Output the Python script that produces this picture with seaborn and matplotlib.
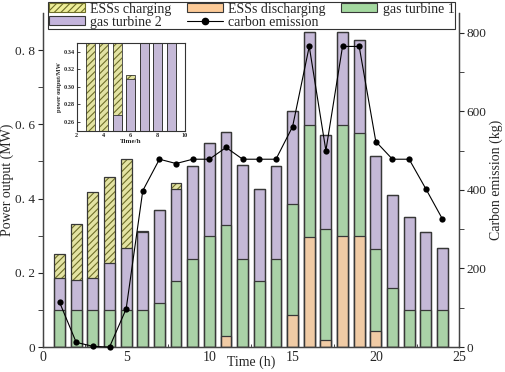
import numpy as np
import pandas as pd
import matplotlib
matplotlib.use('Agg')
import matplotlib.pyplot as plt
import seaborn as sns
from matplotlib.patches import Patch
from matplotlib.lines import Line2D

# hourly dispatch (MW) and carbon emission (kg)
hours = list(range(1, 25))
ess_dis = [0, 0, 0, 0, 0, 0, 0, 0, 0, 0, 0.03, 0, 0, 0,
           0.086, 0.296, 0.019, 0.298, 0.298, 0.044, 0, 0, 0, 0]
gt1 = [0.1, 0.1, 0.1, 0.1, 0.1, 0.1, 0.118, 0.178, 0.238, 0.298, 0.298, 0.238,
       0.178, 0.238, 0.3, 0.301, 0.299, 0.301, 0.279, 0.22, 0.158, 0.1, 0.1, 0.1]
gt2 = [0.087, 0.081, 0.087, 0.126, 0.168, 0.209, 0.25, 0.248, 0.251, 0.251, 0.251, 0.252,
       0.249, 0.251, 0.25, 0.252, 0.253, 0.25, 0.251, 0.252, 0.253, 0.25, 0.209, 0.168]
ess_chg = [0.063, 0.151, 0.231, 0.232, 0.239, 0.004, 0, 0.016, 0, 0, 0, 0,
           0, 0, 0, 0, 0, 0, 0, 0, 0, 0, 0, 0]
emission = [114, 12, 2, 0, 97, 398, 478, 467, 478, 478, 508, 478,
            478, 478, 561, 765, 500, 765, 765, 523, 478, 478, 403, 326]

labels = ['ESSs charging', 'ESSs discharging', 'gas turbine 1', 'gas turbine 2', 'carbon emission']
left_ticks = [0, 0.2, 0.4, 0.6, 0.8]
left_ticklabels = ['0', '0. 2', '0. 4', '0. 6', '0. 8']
right_ticks = [0, 200, 400, 600, 800]
inset_hours = [3, 4, 5, 6, 7, 8, 9]
inset_yticks = [0.26, 0.28, 0.30, 0.32, 0.34]

C_CHG = '#eeee98'
C_HATCH = '#6e6e28'
C_DIS = '#fdcb98'
C_GT1 = '#a4d9a0'
C_GT2 = '#c4b4dc'
EDGE = '#383838'

df = pd.DataFrame({'hour': hours, 'dis': ess_dis, 'gt1': gt1, 'gt2': gt2, 'chg': ess_chg})
df['top_dis'] = df['dis']
df['top_gt1'] = df['top_dis'] + df['gt1']
df['top_gt2'] = df['top_gt1'] + df['gt2']
df['top_chg'] = df['top_gt2'] + df['chg']

sns.set_style('ticks')
plt.rcParams['font.family'] = ['Liberation Serif', 'DejaVu Serif']
plt.rcParams['hatch.linewidth'] = 0.8


def draw_bars(ax, data, lw):
    common = dict(data=data, x='hour', native_scale=True, orient='x', width=0.65,
                  errorbar=None, ax=ax)
    # hatched charging part (drawn full height, covered below)
    sns.barplot(y='top_chg', color=C_CHG, hatch='/////', edgecolor=C_HATCH, linewidth=0, **common)
    sns.barplot(y='top_gt2', color=C_GT2, edgecolor=EDGE, linewidth=lw, **common)
    sns.barplot(y='top_gt1', color=C_GT1, edgecolor=EDGE, linewidth=lw, **common)
    sns.barplot(y='top_dis', color=C_DIS, edgecolor=EDGE, linewidth=lw, **common)
    # outline of the whole stack
    sns.barplot(y='top_chg', color=EDGE, fill=False, linewidth=lw, **common)


fig = plt.figure(figsize=(5.05, 3.72), dpi=100)
ax = fig.add_axes([0.085, 0.067, 0.824, 0.898])
draw_bars(ax, df, 0.9)

ax.set_xlim(0, 25)
ax.set_ylim(0, 0.9)
ax.set_xticks([0, 5, 10, 15, 20, 25])
ax.set_xticks([2.5, 7.5, 12.5, 17.5, 22.5], minor=True)
ax.set_yticks(left_ticks)
ax.set_yticklabels(left_ticklabels)
ax.set_yticks([0.1, 0.3, 0.5, 0.7], minor=True)
ax.tick_params(axis='x', which='major', direction='in', length=4, labelsize=10, pad=3)
ax.tick_params(axis='x', which='minor', direction='in', length=2.5)
ax.tick_params(axis='y', which='both', direction='out', length=3.5, labelsize=9.5, pad=2)
ax.set_xlabel('Time (h)', fontsize=10, labelpad=-6)
ax.set_ylabel('Power output (MW)', fontsize=10, labelpad=1)
for s in ['left', 'bottom', 'right']:
    ax.spines[s].set_color('#444444')
    ax.spines[s].set_linewidth(0.9)
ax.spines['top'].set_visible(False)

ax2 = ax.twinx()
sns.lineplot(x=hours, y=emission, ax=ax2, color='black', marker='o', markersize=4.5,
             markeredgewidth=0, linewidth=0.8, clip_on=False, zorder=5)
ax2.set_ylim(0, 850)
ax2.set_yticks(right_ticks)
ax2.set_yticks([100, 300, 500, 700], minor=True)
ax2.tick_params(axis='y', which='both', direction='out', length=3.5, labelsize=9.5, pad=2)
ax2.set_ylabel('Carbon emission (kg)', fontsize=10, labelpad=2)
for s in ['left', 'bottom', 'right']:
    ax2.spines[s].set_color('#444444')
    ax2.spines[s].set_linewidth(0.9)
ax2.spines['top'].set_visible(False)

handles = [
    Patch(facecolor=C_CHG, edgecolor=C_HATCH, hatch='/////', linewidth=0.8),
    Patch(facecolor=C_GT2, edgecolor=EDGE, linewidth=0.8),
    Patch(facecolor=C_DIS, edgecolor=EDGE, linewidth=0.8),
    Line2D([0], [0], color='black', marker='o', markersize=4.5, linewidth=0.8),
    Patch(facecolor=C_GT1, edgecolor=EDGE, linewidth=0.8),
]
leg_labels = [labels[0], labels[3], labels[1], labels[4], labels[2]]
leg = ax2.legend(handles, leg_labels, ncol=3, loc='upper left', mode='expand',
                 bbox_to_anchor=(0.095, 0.995, 0.806, 0), bbox_transform=fig.transFigure,
                 borderaxespad=0, fontsize=10, frameon=True, fancybox=False, framealpha=1,
                 edgecolor='#333333', borderpad=0.05, labelspacing=0.0,
                 handlelength=2.6, handleheight=0.6, handletextpad=0.4, columnspacing=0.6)
leg.get_frame().set_linewidth(0.8)

# inset zoom of hours 3-9
ia = fig.add_axes([0.152, 0.648, 0.214, 0.237])
draw_bars(ia, df[df['hour'].isin(inset_hours)], 0.6)
ia.set_xlim(2, 10)
ia.set_ylim(0.25, 0.35)
ia.set_xticks([2, 4, 6, 8, 10])
ia.set_yticks(inset_yticks)
ia.set_yticklabels([f'{v:.2f}' for v in inset_yticks])
ia.tick_params(axis='both', direction='in', length=2, labelsize=4.5, pad=1.5, width=0.6)
for t in ia.get_xticklabels() + ia.get_yticklabels():
    t.set_fontweight('bold')
ia.set_xlabel('Time/h', fontsize=5, fontweight='bold', labelpad=0.5)
ia.set_ylabel('power output/MW', fontsize=4.5, fontweight='bold', labelpad=1)
for s in ia.spines.values():
    s.set_color('#333333')
    s.set_linewidth(0.8)

fig.savefig('out.png', dpi=100)
